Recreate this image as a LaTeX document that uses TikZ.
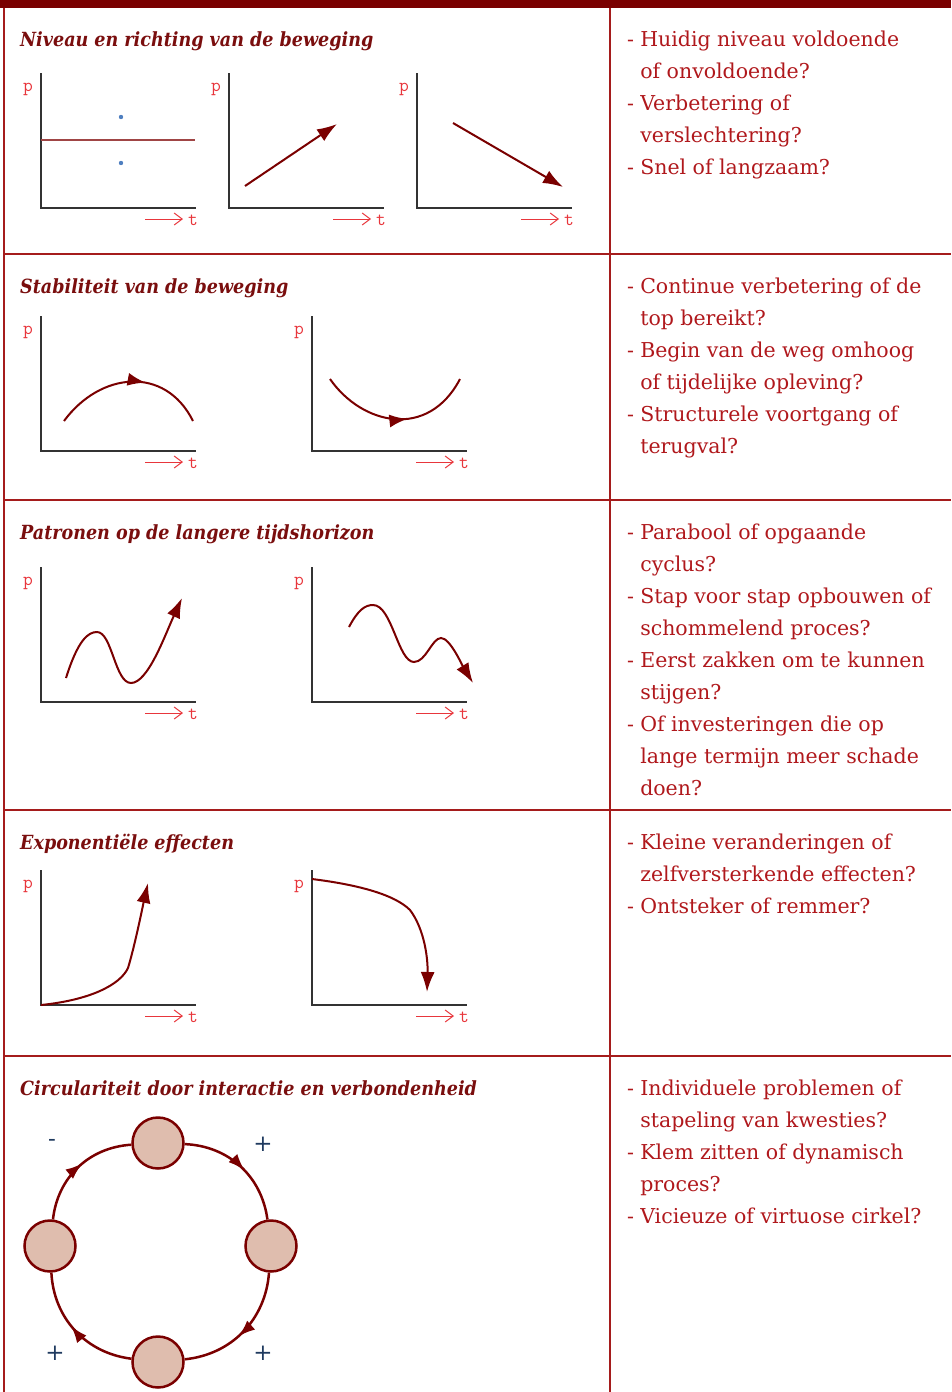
\documentclass[tikz,border=0pt]{standalone}
\usepackage{fontspec}
\setmainfont{DejaVu Serif}
\newfontfamily\titlefont{DejaVu Serif Condensed}
\usetikzlibrary{arrows.meta,decorations.markings}

\definecolor{barred}{HTML}{7A0000}
\definecolor{rulered}{HTML}{A51C1C}
\definecolor{titlered}{HTML}{7A0E0E}
\definecolor{questred}{HTML}{B0181C}
\definecolor{curvered}{HTML}{7A0000}
\definecolor{levelred}{HTML}{A04545}
\definecolor{labred}{HTML}{E8363C}
\definecolor{dotblue}{HTML}{4F7FC0}
\definecolor{signblue}{HTML}{1F3A5F}
\definecolor{hubfill}{HTML}{DFBDAE}
\definecolor{axisgray}{HTML}{333333}

\tikzset{
  rule/.style={draw=rulered, line width=1.5pt},
  axisline/.style={draw=axisgray, line width=2pt},
  plab/.style={text=labred, font=\ttfamily\fontsize{19}{19}\selectfont, inner sep=0pt},
  tarrow/.style={draw=labred, line width=1pt, -{Straight Barb[length=8pt,width=12pt]}},
  levelline/.style={draw=levelred, line width=2.2pt},
  trend/.style={draw=curvered, line width=2pt, -{Latex[length=20pt,width=14pt]}},
  curveline/.style={draw=curvered, line width=2pt},
  midtip/.style={postaction={decorate}, decoration={markings,
      mark=at position #1 with {\arrow{Latex[length=18pt,width=13pt]}}}},
  title/.style={text=titlered, font=\titlefont\bfseries\itshape\fontsize{19.5}{23}\selectfont, inner sep=0pt, anchor=base west},
  quest/.style={text=questred, font=\fontsize{20.5}{32}\selectfont, inner sep=0pt, anchor=base west},
  hub/.style={circle, draw=curvered, fill=hubfill, line width=2.5pt, minimum size=51pt, inner sep=0pt},
  cycleedge/.style={draw=curvered, line width=2.5pt, postaction={decorate}, decoration={markings,
      mark=at position 0.55 with {\arrow{Latex[length=17pt,width=12pt]}}}},
  sign/.style={text=signblue, font=\fontsize{23}{23}\selectfont, inner sep=0pt}
}

% axes with p and t labels: name, origin x, origin y
\newcommand{\plotaxes}[3]{%
  \draw[axisline] (#2,#3-135) -- (#2,#3) -- (#2+155,#3);
  \node[plab, anchor=base] (#1p) at (#2-13,#3-117) {p};
  \draw[tarrow] (#2+104,#3+11) -- (#2+142,#3+11);
  \node[plab, anchor=base] (#1t) at (#2+152,#3+17) {t};
}

\begin{document}
\begin{tikzpicture}[x=1pt, y=-1pt]
    \useasboundingbox (0,0) rectangle (951,1392);

    % Table
    \fill[barred] (0,0) rectangle (951,8);
    \draw[rule] (4,8) -- (4,1392);
    \draw[rule] (610,8) -- (610,1392);
    \foreach \yy in {254,500,810,1056}
        \draw[rule] (4,\yy) -- (951,\yy);

    % Row 1: level and direction
    \node[title] (title1) at (20,46.5) {Niveau en richting van de beweging};
    \plotaxes{ga}{41}{208}
    \draw[levelline] (41,140) -- (195,140);
    \fill[dotblue] (121,117) circle (2.2pt);
    \fill[dotblue] (121,163) circle (2.2pt);
    \plotaxes{gb}{229}{208}
    \draw[trend] (245,186) -- (337,124);
    \plotaxes{gc}{417}{208}
    \draw[trend] (453,123) -- (563,187);
    \node[quest] (quest1) at (627,46.5) {\begin{tabular}[t]{@{}l@{\hspace{0.3em}}l@{}}
        -&Huidig niveau voldoende\\&of onvoldoende?\\
        -&Verbetering of\\&verslechtering?\\
        -&Snel of langzaam?\end{tabular}};

    % Row 2: stability
    \node[title] (title2) at (20,293) {Stabiliteit van de beweging};
    \plotaxes{gd}{41}{451}
    \draw[curveline, midtip=0.6] (64,421) .. controls (100,372) and (165,365) .. (193,421);
    \plotaxes{ge}{312}{451}
    \draw[curveline, midtip=0.57] (330,379) .. controls (362,425) and (428,440) .. (460,379);
    \node[quest] (quest2) at (627,293) {\begin{tabular}[t]{@{}l@{\hspace{0.3em}}l@{}}
        -&Continue verbetering of de\\&top bereikt?\\
        -&Begin van de weg omhoog\\&of tijdelijke opleving?\\
        -&Structurele voortgang of\\&terugval?\end{tabular}};

    % Row 3: long-term patterns
    \node[title] (title3) at (20,539) {Patronen op de langere tijdshorizon};
    \plotaxes{gf}{41}{702}
    \draw[trend] (66,678) .. controls (78,640) and (88,632) .. (97,632)
        .. controls (112,632) and (115,683) .. (131,683)
        .. controls (148,683) and (165,635) .. (182,598);
    \plotaxes{gg}{312}{702}
    \draw[trend] (349,627) .. controls (358,610) and (365,605) .. (373,605)
        .. controls (392,605) and (398,662) .. (414,662)
        .. controls (426,662) and (432,638) .. (441,638)
        .. controls (450,638) and (462,665) .. (473,683);
    \node[quest] (quest3) at (627,539) {\begin{tabular}[t]{@{}l@{\hspace{0.3em}}l@{}}
        -&Parabool of opgaande\\&cyclus?\\
        -&Stap voor stap opbouwen of\\&schommelend proces?\\
        -&Eerst zakken om te kunnen\\&stijgen?\\
        -&Of investeringen die op\\&lange termijn meer schade\\&doen?\end{tabular}};

    % Row 4: exponential effects
    \node[title] (title4) at (20,849) {Exponentiële effecten};
    \plotaxes{gh}{41}{1005}
    \draw[trend] (41,1005) .. controls (90,1000) and (120,985) .. (128,968)
        .. controls (135,945) and (143,905) .. (148,883);
    \plotaxes{gi}{312}{1005}
    \draw[trend] (312,879) .. controls (360,885) and (395,895) .. (410,910)
        .. controls (425,930) and (428,960) .. (427,992);
    \node[quest] (quest4) at (627,849) {\begin{tabular}[t]{@{}l@{\hspace{0.3em}}l@{}}
        -&Kleine veranderingen of\\&zelfversterkende effecten?\\
        -&Ontsteker of remmer?\end{tabular}};

    % Row 5: circularity
    \node[title] (title5) at (20,1095) {Circulariteit door interactie en verbondenheid};
    \node[hub] (htop) at (158,1143) {};
    \node[hub] (hright) at (271,1246) {};
    \node[hub] (hbottom) at (158,1362) {};
    \node[hub] (hleft) at (50,1246) {};
    \draw[cycleedge] (htop) to[bend left=40] (hright);
    \draw[cycleedge] (hright) to[bend left=40] (hbottom);
    \draw[cycleedge] (hbottom) to[bend left=40] (hleft);
    \draw[cycleedge] (hleft) to[bend left=40] (htop);
    \node[sign] (sgna) at (52,1143) {-};
    \node[sign] (sgnb) at (263,1144) {+};
    \node[sign] (sgnc) at (55,1353) {+};
    \node[sign] (sgnd) at (263,1353) {+};
    \node[quest] (quest5) at (627,1095) {\begin{tabular}[t]{@{}l@{\hspace{0.3em}}l@{}}
        -&Individuele problemen of\\&stapeling van kwesties?\\
        -&Klem zitten of dynamisch\\&proces?\\
        -&Vicieuze of virtuose cirkel?\end{tabular}};
\end{tikzpicture}
\end{document}
